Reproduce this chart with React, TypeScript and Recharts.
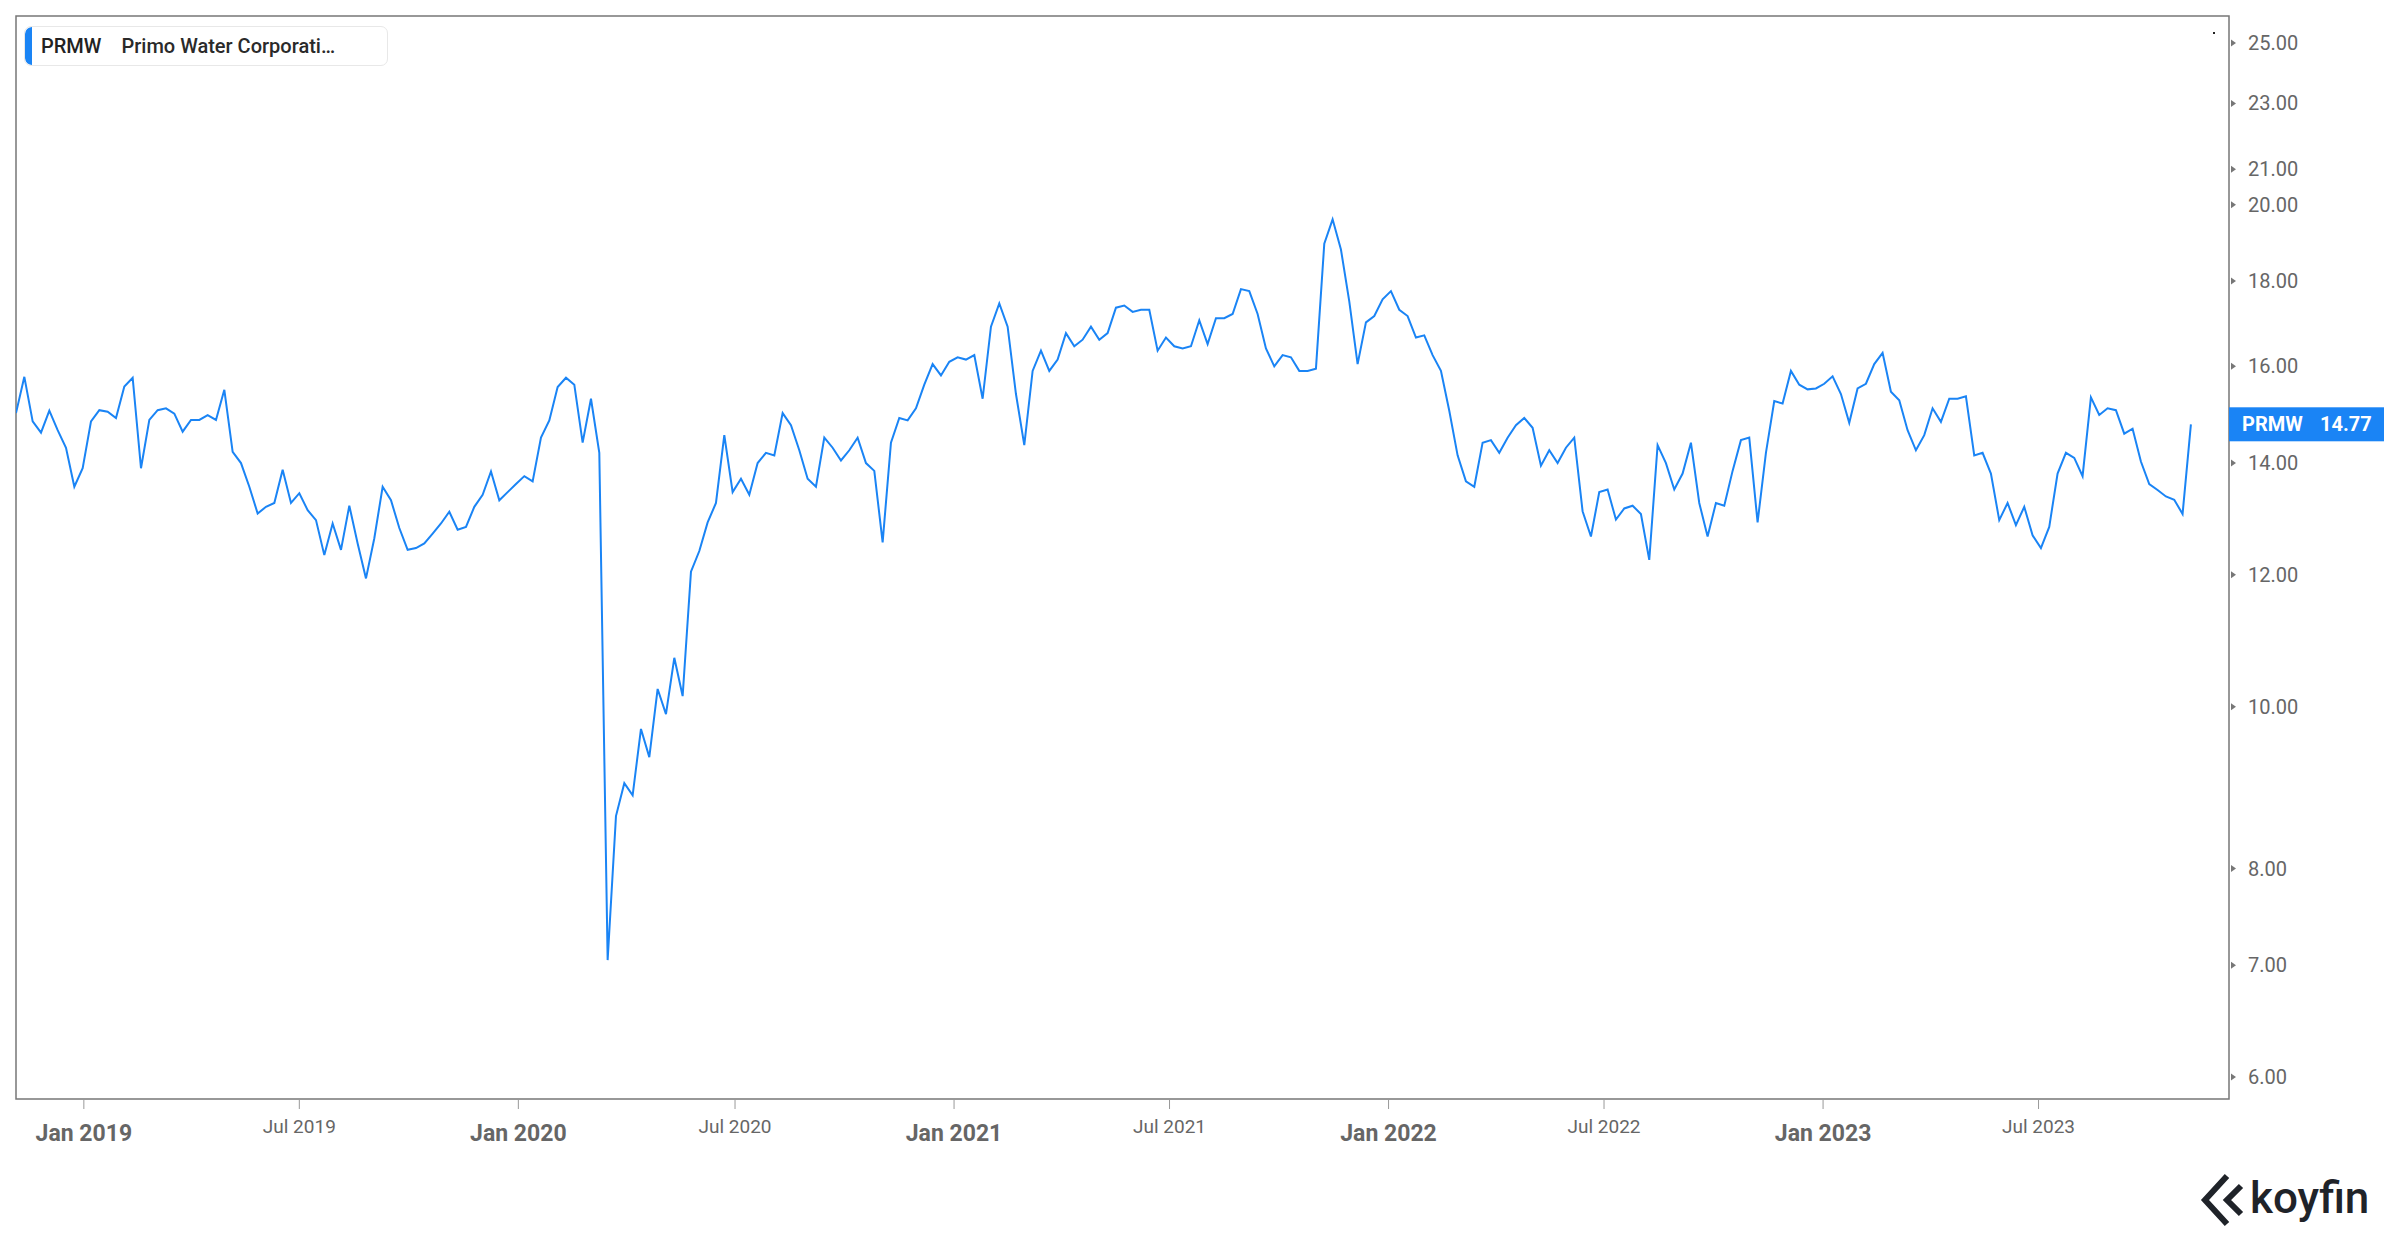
import { LineChart, Line, XAxis, YAxis, ReferenceArea, ReferenceLine } from 'recharts'

// weekly closes (Mondays), first week 2018-11-05
const FIRST_WEEK = '2018-11-05'
const closes2018 = [15.0, 15.77, 14.83, 14.6, 15.05, 14.65, 14.3, 13.55, 13.9]
const closes2019 = [
  14.83, 15.06, 15.03, 14.9, 15.56, 15.75, 13.9, 14.86, 15.06, 15.1, 14.99, 14.62, 14.86,
  14.86, 14.96, 14.86, 15.49, 14.22, 14.0, 13.55, 13.06, 13.18, 13.25, 13.87, 13.25, 13.43,
  13.12, 12.94, 12.33, 12.88, 12.42, 13.2, 12.53, 11.94, 12.62, 13.55, 13.3, 12.8, 12.42,
  12.45, 12.53, 12.7, 12.88, 13.09, 12.77, 12.82, 13.18, 13.4, 13.84, 13.3, 13.45, 13.6,
]
const closes2020 = [
  13.75, 13.65, 14.5, 14.85, 15.55, 15.75, 15.6, 14.4, 15.3, 14.2, 7.05, 8.6, 9.0, 8.85,
  9.7, 9.33, 10.25, 9.9, 10.7, 10.15, 12.05, 12.4, 12.9, 13.25, 14.55, 13.45, 13.7, 13.4,
  14.0, 14.2, 14.15, 15.0, 14.75, 14.25, 13.7, 13.55, 14.5, 14.3, 14.05, 14.25, 14.5, 14.0,
  13.85, 12.55, 14.4, 14.9, 14.85, 15.1, 15.6, 16.05, 15.8, 16.1,
]
const closes2021 = [
  16.2, 16.15, 16.25, 15.3, 16.9, 17.45, 16.9, 15.4, 14.35, 15.9, 16.35, 15.9, 16.15, 16.75,
  16.45, 16.6, 16.9, 16.6, 16.75, 17.35, 17.4, 17.25, 17.3, 17.3, 16.35, 16.65, 16.45, 16.4,
  16.45, 17.05, 16.5, 17.1, 17.1, 17.2, 17.8, 17.75, 17.2, 16.4, 16.0, 16.25, 16.2, 15.9,
  15.9, 15.95, 18.95, 19.6, 18.8, 17.5, 16.05, 17.0, 17.15, 17.55,
]
const closes2022 = [
  17.75, 17.3, 17.15, 16.65, 16.7, 16.25, 15.9, 15.05, 14.15, 13.65, 13.55, 14.4, 14.45,
  14.2, 14.5, 14.75, 14.9, 14.7, 13.95, 14.25, 14.0, 14.3, 14.5, 13.1, 12.65, 13.45, 13.5,
  12.95, 13.15, 13.2, 13.05, 12.25, 14.35, 14.0, 13.5, 13.8, 14.4, 13.25, 12.65, 13.25, 13.2,
  13.85, 14.45, 14.5, 12.9, 14.2, 15.25, 15.2, 15.9, 15.6, 15.5, 15.52,
]
const closes2023 = [
  15.62, 15.78, 15.4, 14.8, 15.52, 15.62, 16.05, 16.3, 15.45, 15.27, 14.65, 14.25, 14.55,
  15.1, 14.82, 15.3, 15.3, 15.35, 14.15, 14.2, 13.8, 12.94, 13.25, 12.85, 13.18, 12.67,
  12.45, 12.82, 13.8, 14.2, 14.1, 13.75, 15.33, 14.96, 15.1, 15.06, 14.58, 14.68, 14.03,
  13.6, 13.49, 13.37, 13.31, 13.05, 14.77,
]

const TICKER = 'PRMW'
const NAME = 'Primo Water Corporati…'
const LAST_PRICE = 14.77

const yTicks = [6, 7, 8, 10, 12, 14, 16, 18, 20, 21, 23, 25]
const xTickDates = [
  '2019-01-01', '2019-07-01', '2020-01-01', '2020-07-01', '2021-01-01',
  '2021-07-01', '2022-01-01', '2022-07-01', '2023-01-01', '2023-07-01',
]
const xTickLabels = [
  'Jan 2019', 'Jul 2019', 'Jan 2020', 'Jul 2020', 'Jan 2021',
  'Jul 2021', 'Jan 2022', 'Jul 2022', 'Jan 2023', 'Jul 2023',
]

const X_MIN = Date.parse('2018-11-05')
const X_MAX = Date.parse('2023-12-08')
const Y_MIN = 5.82
const Y_MAX = 25.95
const WEEK = 7 * 24 * 3600 * 1000
const BLUE = '#1a84f5'

const start = Date.parse(FIRST_WEEK)
const closes = [...closes2018, ...closes2019, ...closes2020, ...closes2021, ...closes2022, ...closes2023]
const data = closes.map((close, i) => ({ t: start + i * WEEK, close }))
const xTicks = xTickDates.map((d) => Date.parse(d))

// eslint-disable-next-line @typescript-eslint/no-explicit-any
function DateTick({ x, y, payload }: any) {
  const label = xTickLabels[xTicks.indexOf(payload.value)] ?? ''
  const major = label.startsWith('Jan')
  return (
    <text
      x={x}
      y={y + (major ? 24 : 17)}
      dy="0.35em"
      textAnchor="middle"
      fontSize={major ? 23 : 19}
      fontWeight={major ? 700 : 400}
      fill="#666"
    >
      {label}
    </text>
  )
}

// eslint-disable-next-line @typescript-eslint/no-explicit-any
function PriceTick({ x, y, payload }: any) {
  return (
    <g>
      <path d={`M${x + 2},${y - 3.5}L${x + 7},${y}L${x + 2},${y + 3.5}Z`} fill="#777" />
      <text x={x + 19} y={y} dy="0.35em" fontSize={20} fill="#666">
        {Number(payload.value).toFixed(2)}
      </text>
    </g>
  )
}

// eslint-disable-next-line @typescript-eslint/no-explicit-any
function PriceTag({ viewBox }: any) {
  if (!viewBox) return null
  const x = viewBox.x + viewBox.width
  const y = viewBox.y
  return (
    <g>
      <rect x={x} y={y - 17} width={155} height={34} fill={BLUE} />
      <text x={x + 13} y={y} dy="0.35em" fontSize={20} fontWeight={700} fill="#fff">
        {TICKER}
      </text>
      <text x={x + 91} y={y} dy="0.35em" fontSize={20} fontWeight={700} fill="#fff">
        {LAST_PRICE.toFixed(2)}
      </text>
    </g>
  )
}

export default function App() {
  return (
    <div style={{ position: 'relative', width: 2400, height: 1240, background: '#fff', fontFamily: 'Roboto, sans-serif' }}>
      <style>{'body{margin:0}'}</style>
      <LineChart width={2400} height={1240} data={data} margin={{ top: 16, left: 16, right: 21, bottom: 81 }}>
        <ReferenceArea
          x1={X_MIN}
          x2={X_MAX}
          y1={Y_MIN}
          y2={Y_MAX}
          fill="none"
          stroke="#777"
          strokeWidth={1.5}
          ifOverflow="visible"
        />
        <XAxis
          dataKey="t"
          type="number"
          domain={[X_MIN, X_MAX]}
          ticks={xTicks}
          interval={0}
          axisLine={false}
          tickLine={{ stroke: '#999' }}
          tickSize={10}
          tickMargin={0}
          height={60}
          tick={<DateTick />}
          allowDataOverflow
        />
        <YAxis
          orientation="right"
          type="number"
          scale="log"
          domain={[Y_MIN, Y_MAX]}
          ticks={yTicks}
          interval={0}
          axisLine={false}
          tickLine={false}
          tickSize={0}
          tickMargin={0}
          width={150}
          tick={<PriceTick />}
          allowDataOverflow
        />
        <ReferenceLine y={LAST_PRICE} stroke="none" ifOverflow="visible" label={<PriceTag />} />
        <Line
          type="linear"
          dataKey="close"
          stroke={BLUE}
          strokeWidth={2}
          dot={false}
          isAnimationActive={false}
        />
      </LineChart>

      {/* legend chip */}
      <div
        style={{
          position: 'absolute',
          left: 24,
          top: 26,
          width: 364,
          height: 40,
          boxSizing: 'border-box',
          border: '1.5px solid #e8e8e8',
          borderRadius: 7,
          background: '#fff',
          display: 'flex',
          alignItems: 'center',
          overflow: 'hidden',
        }}
      >
        <div style={{ position: 'absolute', left: 0, top: 0, bottom: 0, width: 7, background: BLUE, borderRadius: '7px 0 0 7px' }} />
        <span style={{ marginLeft: 16, fontSize: 20, fontWeight: 500, color: '#222' }}>{TICKER}</span>
        <span style={{ marginLeft: 20, fontSize: 20, fontWeight: 500, color: '#2a2a2a' }}>{NAME}</span>
      </div>

      <div style={{ position: 'absolute', left: 2213, top: 32, width: 2, height: 2, background: '#222' }} />

      {/* koyfin mark */}
      <svg style={{ position: 'absolute', left: 2195, top: 1170 }} width={190} height={60}>
        <polyline points="32,6 10,30 32,54" fill="none" stroke="#1f2329" strokeWidth={6} strokeLinejoin="miter" />
        <polyline points="46,16 32,30 46,44" fill="none" stroke="#1f2329" strokeWidth={6} strokeLinejoin="miter" />
        <text x={55} y={43} fontSize={44} fontWeight={500} fill="#1f2329" fontFamily="Roboto, sans-serif">
          koyfin
        </text>
      </svg>
    </div>
  )
}
